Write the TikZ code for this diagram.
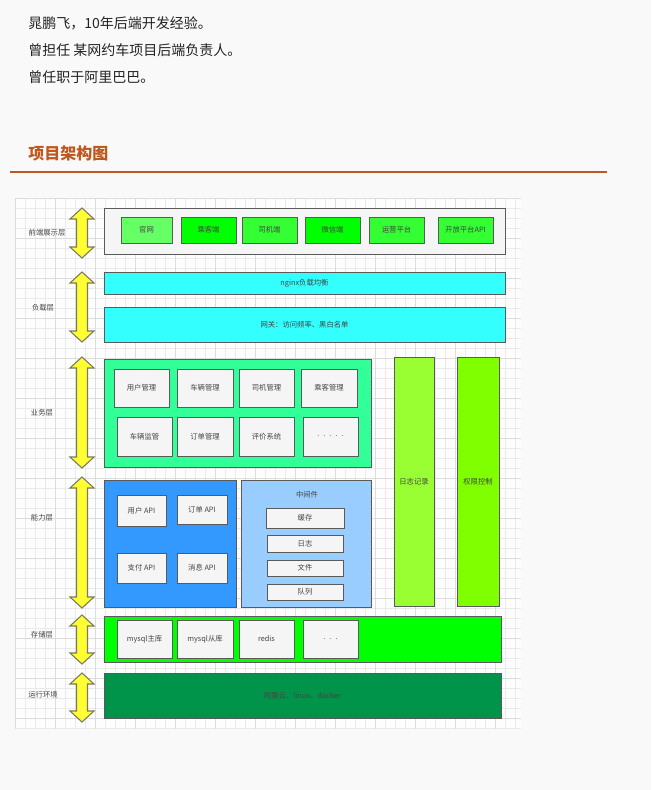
\documentclass[tikz,border=0pt]{standalone}
\usepackage{fontspec}
\setmainfont{Noto Sans CJK SC}
\definecolor{pagebg}{HTML}{F9F9F9}
\definecolor{gridminor}{HTML}{EAEAEA}
\definecolor{gridmajor}{HTML}{DCDCDC}
\definecolor{headtxt}{HTML}{222222}
\definecolor{titlec}{HTML}{C0581E}
\definecolor{boxline}{HTML}{5A5A5A}
\definecolor{txt}{HTML}{444444}
\definecolor{wfill}{HTML}{F5F5F5}
\definecolor{gA}{HTML}{66FF66}
\definecolor{gB}{HTML}{00FF00}
\definecolor{gC}{HTML}{33FF33}
\definecolor{cyanc}{HTML}{33FFFF}
\definecolor{bizc}{HTML}{33FF99}
\definecolor{bluec}{HTML}{3399FF}
\definecolor{midc}{HTML}{99CCFF}
\definecolor{logc}{HTML}{99FF33}
\definecolor{authc}{HTML}{80FF00}
\definecolor{runc}{HTML}{00944A}
\definecolor{arrowfill}{HTML}{FFFF33}
\definecolor{arrowline}{HTML}{7A7A60}
\newcommand\bx[7]{\node[#6, minimum width={(#4-#2)*0.75pt}, minimum height={(#5-#3)*0.75pt}] (#1) at ({(#2+#4)/2},{(#3+#5)/2}) {#7};}
\newcommand\dbarrow[2]{\draw[arrowshape] (82,#1) -- (94,{#1+11}) -- (87.5,{#1+11}) -- (87.5,{#2-11}) -- (94,{#2-11}) -- (82,#2) -- (70,{#2-11}) -- (76.5,{#2-11}) -- (76.5,{#1+11}) -- (70,{#1+11}) -- cycle;}
\begin{document}
\begin{tikzpicture}[x=0.75pt,y=-0.75pt,
  box/.style={draw=boxline, line width=0.75pt, inner sep=0pt, outer sep=0pt, font=\fontsize{5.5}{6.5}\selectfont, text=txt},
  wbox/.style={box, fill=wfill},
  lbl/.style={font=\fontsize{5.5}{6.5}\selectfont, text=txt, inner sep=0pt},
  head/.style={font=\fontsize{10.5}{12}\selectfont, text=headtxt, anchor=west, inner sep=0pt},
  arrowshape/.style={fill=arrowfill, draw=arrowline, line width=0.8pt, line join=miter}]
\useasboundingbox (0,0) rectangle (651,790);
\fill[pagebg] (0,0) rectangle (651,790);
% header
\node[head] (h1) at (28,23) {晁鹏飞，10年后端开发经验。};
\node[head] (h2) at (28,50) {曾担任 某网约车项目后端负责人。};
\node[head] (h3) at (28,77) {曾任职于阿里巴巴。};
\node[head, font=\fontsize{12}{14}\selectfont\bfseries, text=titlec] (title) at (28,153) {项目架构图};
\draw[titlec, line width=0.9pt] (10,172) -- (607,172);
% grid
\fill[white!60!pagebg] (15,198) rectangle (521,729);
\foreach \x in {15,25,...,521} \draw[gridminor, line width=0.4pt] (\x,198) -- (\x,729);
\foreach \y in {198,208,...,729} \draw[gridminor, line width=0.4pt] (15,\y) -- (521,\y);
\foreach \x in {15,55,...,521} \draw[gridmajor, line width=0.5pt] (\x,198) -- (\x,729);
\foreach \y in {198,238,...,729} \draw[gridmajor, line width=0.5pt] (15,\y) -- (521,\y);
% layer labels
\node[lbl] (l1) at (47,233) {前端展示层};
\node[lbl] (l2) at (43,308) {负载层};
\node[lbl] (l3) at (42,413) {业务层};
\node[lbl] (l4) at (42,518) {能力层};
\node[lbl] (l5) at (42,635) {存储层};
\node[lbl] (l6) at (43,695) {运行环境};
% arrows
\dbarrow{208}{258}
\dbarrow{272}{342}
\dbarrow{357}{468}
\dbarrow{477}{608}
\dbarrow{615}{664}
\dbarrow{673}{722}
% front layer
\bx{front}{104}{208}{505}{254}{box, fill=wfill}{}
\bx{guanwang}{121}{217}{172}{243}{box, fill=gA}{官网}
\bx{passenger}{181}{217}{236}{243}{box, fill=gB}{乘客端}
\bx{driver}{242}{217}{297}{243}{box, fill=gC}{司机端}
\bx{wechat}{305}{217}{360}{243}{box, fill=gB}{微信端}
\bx{ops}{369}{217}{424}{243}{box, fill=gC}{运营平台}
\bx{openapi}{438}{217}{493}{243}{box, fill=gC}{开放平台API}
% load layer
\bx{nginx}{104}{272}{505}{294}{box, fill=cyanc}{nginx负载均衡}
\bx{gateway}{104}{307}{505}{342}{box, fill=cyanc}{网关：访问频率、黑白名单}
% business layer
\bx{biz}{104}{359}{371}{467}{box, fill=bizc}{}
\bx{usermgr}{114}{369}{169}{407}{wbox}{用户管理}
\bx{carmgr}{177}{369}{233}{407}{wbox}{车辆管理}
\bx{drvmgr}{239}{369}{294}{407}{wbox}{司机管理}
\bx{psgmgr}{301}{369}{357}{407}{wbox}{乘客管理}
\bx{carmon}{117}{417}{172}{456}{wbox}{车辆监管}
\bx{ordermgr}{177}{417}{233}{456}{wbox}{订单管理}
\bx{review}{239}{417}{294}{456}{wbox}{评价系统}
\bx{bizmore}{303}{417}{358}{456}{wbox}{.\hspace{3pt}.\hspace{3pt}.\hspace{3pt}.\hspace{3pt}.}
% side bars
\bx{logbar}{394}{357}{434}{606}{box, fill=logc}{日志记录}
\bx{authbar}{457}{357}{499}{606}{box, fill=authc}{权限控制}
% capability layer
\bx{api}{104}{480}{236}{607}{box, fill=bluec}{}
\bx{userapi}{117}{495}{166}{526}{wbox}{用户 API}
\bx{orderapi}{177}{495}{227}{524}{wbox}{订单 API}
\bx{payapi}{117}{553}{166}{583}{wbox}{支付 API}
\bx{msgapi}{177}{553}{227}{583}{wbox}{消息 API}
\bx{mw}{241}{480}{371}{607}{box, fill=midc}{}
\node[lbl] (mwtitle) at (307,495) {中间件};
\bx{cache}{266}{508}{344}{528}{wbox}{缓存}
\bx{mwlog}{267}{535}{343}{552}{wbox}{日志}
\bx{file}{267}{560}{343}{576}{wbox}{文件}
\bx{queue}{267}{584}{343}{600}{wbox}{队列}
% storage layer
\bx{storage}{104}{616}{501}{662}{box, fill=gB}{}
\bx{master}{117}{620}{172}{658}{wbox}{mysql主库}
\bx{slave}{177}{620}{233}{658}{wbox}{mysql从库}
\bx{redis}{239}{620}{294}{658}{wbox}{redis}
\bx{stmore}{303}{620}{358}{658}{wbox}{.\hspace{3pt}.\hspace{3pt}.}
% runtime layer
\bx{runtime}{104}{673}{501}{718}{box, fill=runc}{阿里云、linux、docker}
\end{tikzpicture}
\end{document}
